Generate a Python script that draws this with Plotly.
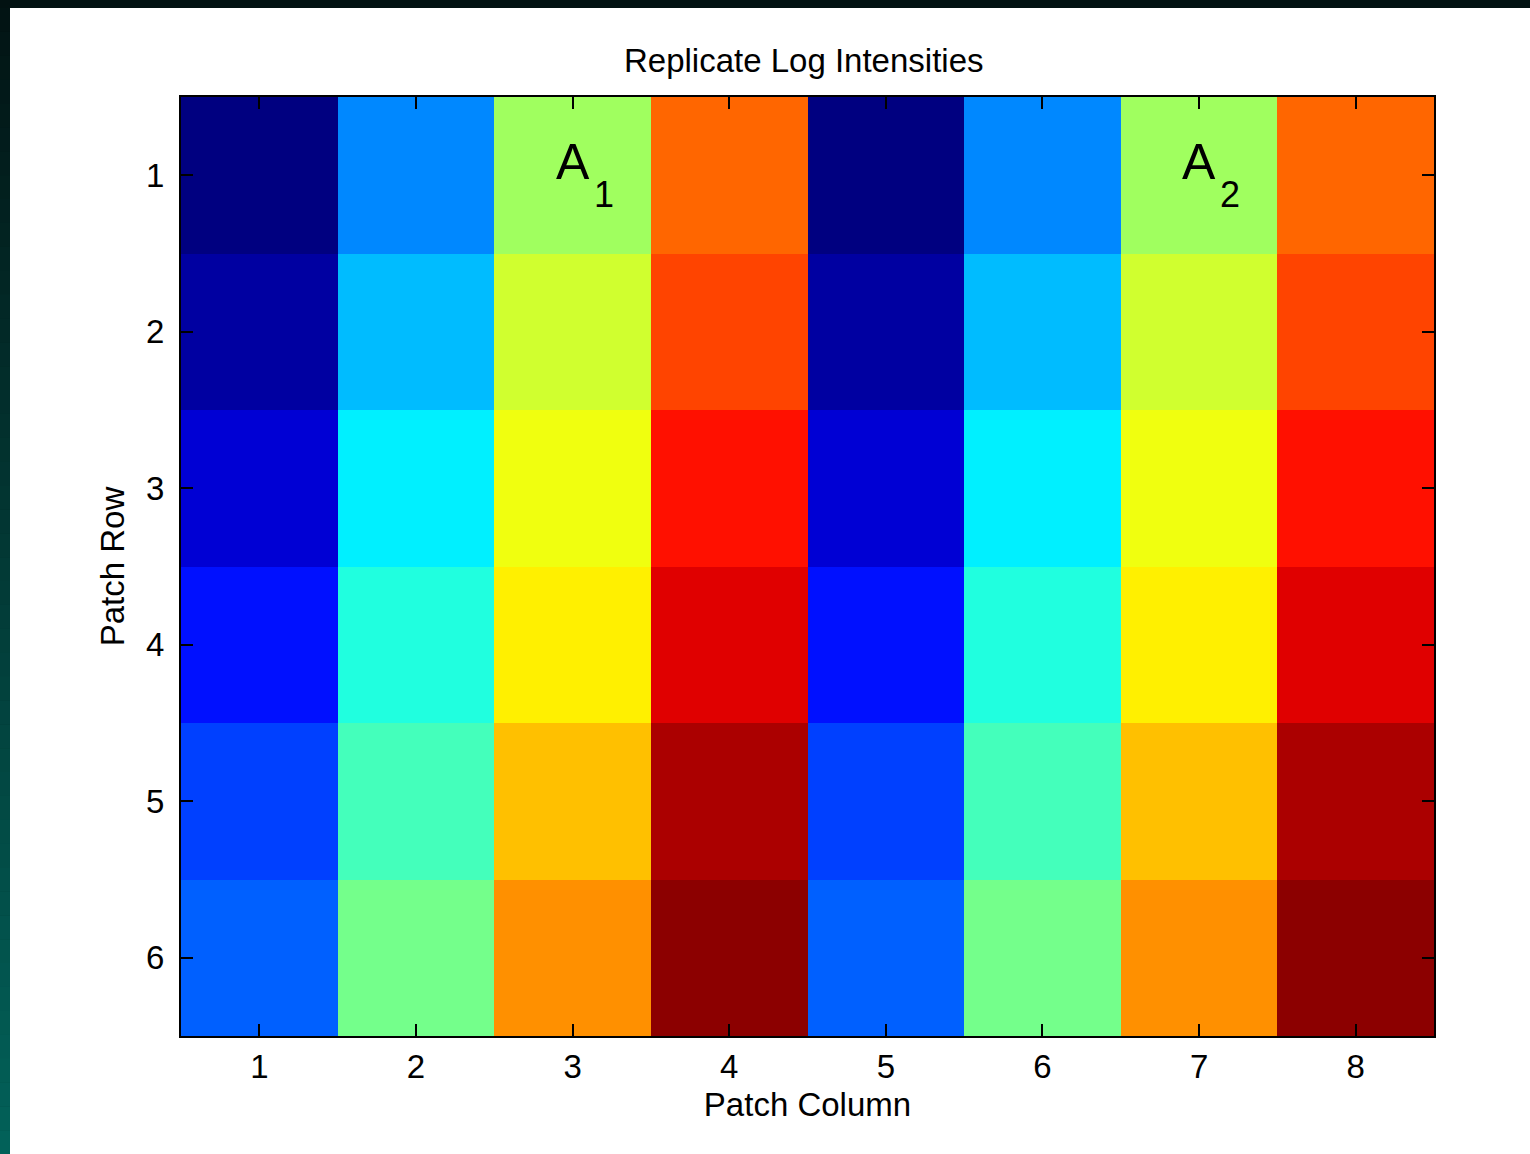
import numpy as np
import plotly.graph_objects as go

# Patch grid: columns 1-4 are replicated as columns 5-8
patch_rows = [1, 2, 3, 4, 5, 6]
patch_cols = [1, 2, 3, 4, 5, 6, 7, 8]
row_tick_labels = ["1", "2", "3", "4", "5", "6"]
col_tick_labels = ["1", "2", "3", "4", "5", "6", "7", "8"]

# Normalised log intensity per patch (one list per patch row)
row1 = [0.000, 0.258, 0.532, 0.775, 0.000, 0.258, 0.532, 0.775]
row2 = [0.032, 0.309, 0.579, 0.808, 0.032, 0.309, 0.579, 0.808]
row3 = [0.083, 0.360, 0.610, 0.859, 0.083, 0.360, 0.610, 0.859]
row4 = [0.141, 0.406, 0.640, 0.906, 0.141, 0.406, 0.640, 0.906]
row5 = [0.188, 0.442, 0.687, 0.958, 0.188, 0.442, 0.687, 0.958]
row6 = [0.219, 0.489, 0.734, 0.988, 0.219, 0.489, 0.734, 0.988]
log_intensity = [row1, row2, row3, row4, row5, row6]
color_min, color_max = 0.0, 1.0

# jet colour map
jet = [
    [0.0, "rgb(0,0,128)"],
    [0.125, "rgb(0,0,255)"],
    [0.375, "rgb(0,255,255)"],
    [0.625, "rgb(255,255,0)"],
    [0.875, "rgb(255,0,0)"],
    [1.0, "rgb(128,0,0)"],
]

W, H = 1530, 1154
L, R, T, B = 181, 96, 97, 118
pw, ph = W - L - R, H - T - B


def px_x(x):
    return (x - L) / pw


def px_y(y):
    return (H - B - y) / ph


fig = go.Figure(
    go.Heatmap(
        z=log_intensity,
        x=patch_cols,
        y=patch_rows,
        colorscale=jet,
        zmin=color_min,
        zmax=color_max,
        showscale=False,
        hoverinfo="x+y+z",
    )
)

# window frame: dark strip along the top, teal gradient strip down the left
shapes = [
    dict(type="rect", xref="paper", yref="paper", layer="below",
         x0=px_x(10), x1=px_x(W), y0=px_y(8), y1=px_y(H),
         fillcolor="white", line_width=0),
    dict(type="rect", xref="paper", yref="paper", layer="below",
         x0=px_x(0), x1=px_x(W), y0=px_y(0), y1=px_y(8),
         fillcolor="rgb(2,18,18)", line_width=0),
]
bands = 48
top_rgb = np.array([2, 20, 20])
bot_rgb = np.array([2, 98, 90])
for i in range(bands):
    y0 = 8 + (H - 8) * i / bands
    y1 = 8 + (H - 8) * (i + 1) / bands
    c = top_rgb + (bot_rgb - top_rgb) * (i + 0.5) / bands
    shapes.append(dict(type="rect", xref="paper", yref="paper", layer="below",
                       x0=px_x(0), x1=px_x(10), y0=px_y(y0), y1=px_y(y1 + 0.5),
                       fillcolor=f"rgb({int(c[0])},{int(c[1])},{int(c[2])})", line_width=0))

font_family = "Liberation Sans, Arial, sans-serif"

annotations = [
    dict(x=3, y=0.915, text="A", showarrow=False, xref="x", yref="y",
         font=dict(family=font_family, size=50, color="black")),
    dict(x=3.2, y=1.12, text="1", showarrow=False, xref="x", yref="y",
         font=dict(family=font_family, size=36, color="black")),
    dict(x=7, y=0.915, text="A", showarrow=False, xref="x", yref="y",
         font=dict(family=font_family, size=50, color="black")),
    dict(x=7.2, y=1.12, text="2", showarrow=False, xref="x", yref="y",
         font=dict(family=font_family, size=36, color="black")),
]

axis_common = dict(
    showline=True, linecolor="black", linewidth=2, mirror="ticks",
    ticks="inside", ticklen=12, tickwidth=2, tickcolor="black",
    showgrid=False, zeroline=False,
    tickfont=dict(family=font_family, size=33, color="black"),
)

fig.update_layout(
    width=W, height=H,
    margin=dict(l=L, r=R, t=T, b=B, pad=0),
    paper_bgcolor="rgb(2,18,18)",
    plot_bgcolor="white",
    shapes=shapes,
    annotations=annotations,
    title=dict(text="Replicate Log Intensities", x=0.497, xref="paper",
               y=1 - 60 / H, yref="container", yanchor="middle",
               font=dict(family=font_family, size=33, color="black")),
    xaxis=dict(axis_common, range=[0.5, 8.5], tickmode="array",
               tickvals=patch_cols, ticktext=col_tick_labels,
               ticklabelstandoff=0,
               title=dict(text="Patch Column", standoff=9,
                          font=dict(family=font_family, size=33, color="black"))),
    yaxis=dict(axis_common, range=[6.5, 0.5], tickmode="array",
               tickvals=patch_rows, ticktext=row_tick_labels,
               ticklabelstandoff=8,
               title=dict(text="Patch Row", standoff=11,
                          font=dict(family=font_family, size=33, color="black"))),
)

fig.write_html("out.html")
